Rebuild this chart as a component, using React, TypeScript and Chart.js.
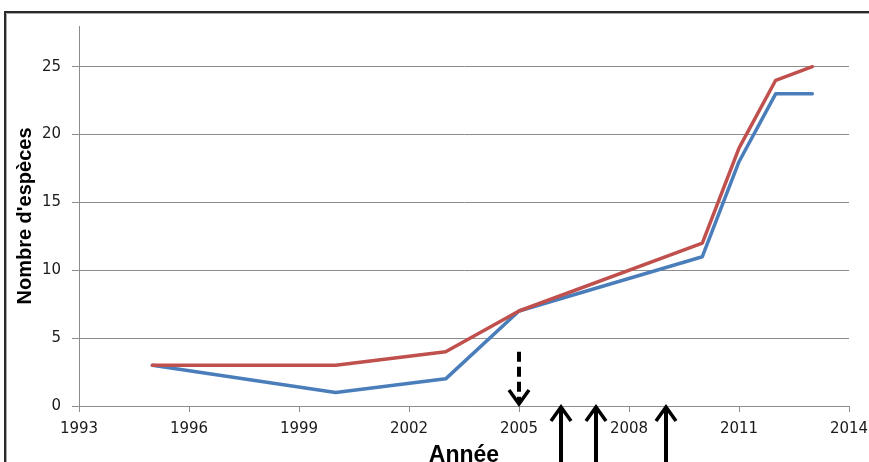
import React, { useEffect, useRef } from "react";
import { Chart, registerables } from "chart.js";
Chart.register(...registerables);

const years = [1995, 2000, 2003, 2005, 2010, 2011, 2012, 2013];
const seriesBlue = [3, 1, 2, 7, 11, 18, 23, 23];
const seriesRed = [3, 3, 4, 7, 12, 19, 24, 25];
const xMin = 1993;
const xMax = 2014;
const xStep = 3;
const yMin = 0;
const yMax = 28;
const yStep = 5;
const upArrowYears = [2006.15, 2007.1, 2009];
const dashedArrowYear = 2005;
const dashedArrowTop = 4;
const yTitle = "Nombre d'espèces";
const xTitle = "Année";

const decorPlugin = {
  id: "decor",
  beforeDraw(chart: any) {
    const ctx = chart.ctx;
    ctx.save();
    ctx.fillStyle = "#ffffff";
    ctx.fillRect(0, 0, chart.width, chart.height);
    ctx.strokeStyle = "#2a2a2a";
    ctx.lineWidth = 2;
    ctx.beginPath();
    ctx.moveTo(5, chart.height + 4);
    ctx.lineTo(5, 12);
    ctx.lineTo(chart.width + 4, 12);
    ctx.stroke();
    ctx.strokeStyle = "#a8a8a8";
    ctx.lineWidth = 1;
    ctx.beginPath();
    ctx.moveTo(6.5, chart.height + 4);
    ctx.lineTo(6.5, 13.5);
    ctx.lineTo(chart.width + 4, 13.5);
    ctx.stroke();
    ctx.restore();
  },
  afterDraw(chart: any) {
    const { ctx } = chart;
    const x = chart.scales.x;
    const y = chart.scales.y;
    ctx.save();
    ctx.strokeStyle = "#000000";
    ctx.lineCap = "butt";
    ctx.lineJoin = "miter";
    // dashed down arrow
    const dx = Math.round(x.getPixelForValue(dashedArrowYear));
    const top = y.getPixelForValue(dashedArrowTop);
    const tip = y.getPixelForValue(0) - 2;
    ctx.lineWidth = 4;
    ctx.setLineDash([10, 5]);
    ctx.beginPath();
    ctx.moveTo(dx, top);
    ctx.lineTo(dx, tip - 3);
    ctx.stroke();
    ctx.setLineDash([]);
    ctx.lineWidth = 3.5;
    ctx.beginPath();
    ctx.moveTo(dx - 10, tip - 14);
    ctx.lineTo(dx, tip);
    ctx.lineTo(dx + 10, tip - 14);
    ctx.stroke();
    // solid up arrows
    const base = y.getPixelForValue(0);
    for (const yr of upArrowYears) {
      const ax = Math.round(x.getPixelForValue(yr));
      ctx.lineWidth = 4;
      ctx.beginPath();
      ctx.moveTo(ax, base + 3);
      ctx.lineTo(ax, chart.height + 5);
      ctx.stroke();
      ctx.lineWidth = 3.5;
      ctx.beginPath();
      ctx.moveTo(ax - 10, base + 15);
      ctx.lineTo(ax, base + 1);
      ctx.lineTo(ax + 10, base + 15);
      ctx.stroke();
    }
    ctx.restore();
  },
};

export default function App() {
  const ref = useRef<HTMLCanvasElement | null>(null);
  useEffect(() => {
    if (!ref.current) return;
    const chart = new Chart(ref.current, {
      type: "line",
      data: {
        datasets: [
          {
            label: "Rouge",
            data: years.map((yr, i) => ({ x: yr, y: seriesRed[i] })),
            borderColor: "#C0504D",
            borderWidth: 3.5,
            pointRadius: 0,
            fill: false,
            tension: 0,
            borderJoinStyle: "round",
            borderCapStyle: "round",
          },
          {
            label: "Bleu",
            data: years.map((yr, i) => ({ x: yr, y: seriesBlue[i] })),
            borderColor: "#4A7EBB",
            borderWidth: 3.5,
            pointRadius: 0,
            fill: false,
            tension: 0,
            borderJoinStyle: "round",
            borderCapStyle: "round",
          },
        ],
      },
      options: {
        responsive: false,
        animation: false,
        devicePixelRatio: 1,
        layout: { padding: { left: 0, top: 26, right: 20, bottom: 0 } },
        plugins: { legend: { display: false }, tooltip: { enabled: false } },
        scales: {
          x: {
            type: "linear",
            min: xMin,
            max: xMax,
            afterFit: (s: any) => {
              s.height = 56;
              s.paddingLeft = 0;
              s.paddingRight = 0;
            },
            ticks: {
              stepSize: xStep,
              padding: 8,
              color: "#1a1a1a",
              font: { family: "DejaVu Sans", size: 15 },
              callback: (v: any) => String(v),
              maxRotation: 0,
            },
            grid: {
              drawOnChartArea: false,
              drawTicks: true,
              tickLength: 6,
              color: "#8c8c8c",
            },
            border: { display: true, color: "#8c8c8c", width: 1 },
            title: {
              display: true,
              text: xTitle,
              color: "#000000",
              font: { family: "Liberation Sans", size: 23, weight: "bold" },
              padding: { top: 0, bottom: -7 },
            },
          },
          y: {
            type: "linear",
            min: yMin,
            max: yMax,
            afterFit: (s: any) => {
              s.width = 79;
              s.paddingTop = 0;
              s.paddingBottom = 0;
            },
            ticks: {
              stepSize: yStep,
              includeBounds: false,
              padding: 11,
              color: "#1a1a1a",
              font: { family: "DejaVu Sans", size: 15 },
            },
            grid: {
              drawTicks: true,
              tickLength: 7,
              color: "#8c8c8c",
            },
            border: { display: true, color: "#8c8c8c", width: 1 },
            title: {
              display: true,
              text: yTitle,
              color: "#000000",
              font: { family: "Liberation Sans", size: 20, weight: "bold" },
              padding: { top: 13, bottom: 0 },
            },
          },
        },
      },
      plugins: [decorPlugin],
    } as any);
    return () => chart.destroy();
  }, []);
  return (
    <div style={{ position: "absolute", left: 0, top: 0, width: 869, height: 462 }}>
      <canvas ref={ref} width={869} height={462} style={{ display: "block" }} />
    </div>
  );
}
